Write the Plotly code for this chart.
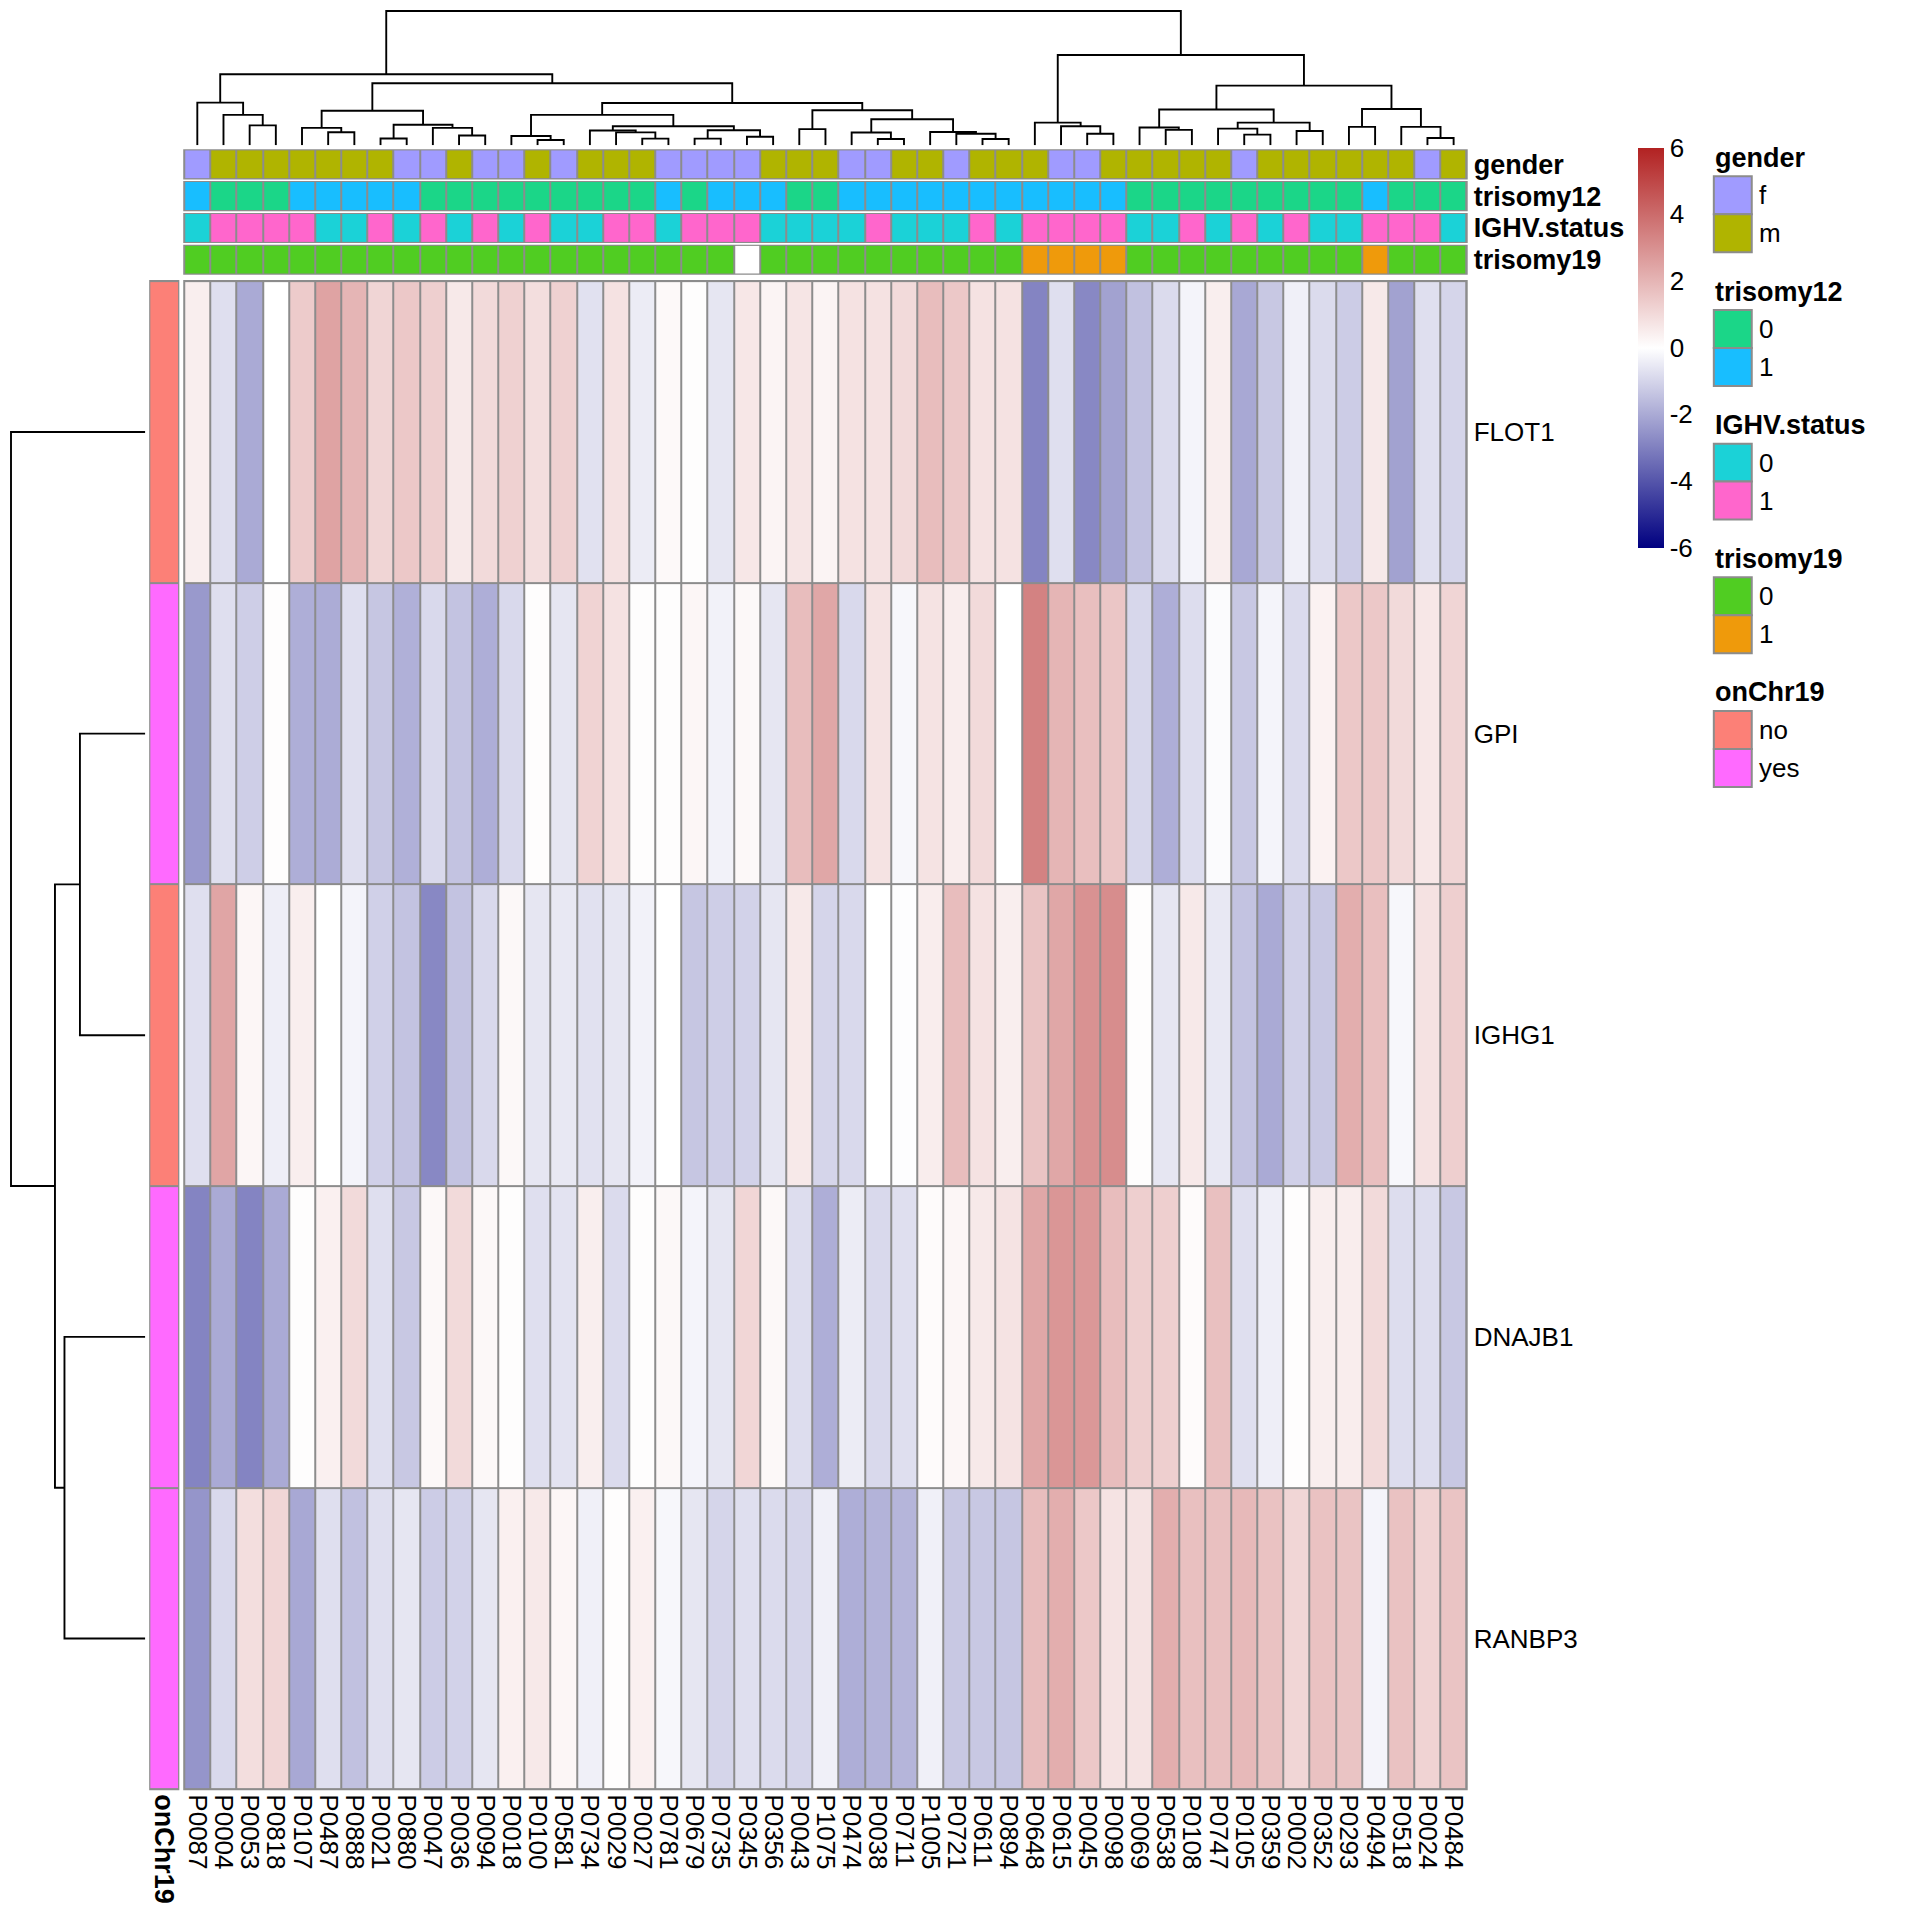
import plotly.graph_objects as go

W = H = 1912          # figure size; page body margin of 8px completes the 1920 window
OFF = 8
FONT = "Liberation Sans, Arial, Helvetica, sans-serif"

# ---------------- data ----------------
samples = ["P0087", "P0004", "P0053", "P0818", "P0107", "P0487", "P0888", "P0021", "P0880", "P0047",
           "P0036", "P0094", "P0018", "P0100", "P0581", "P0734", "P0029", "P0027", "P0781", "P0679",
           "P0735", "P0345", "P0356", "P0043", "P1075", "P0474", "P0038", "P0711", "P1005", "P0721",
           "P0611", "P0894", "P0648", "P0615", "P0045", "P0098", "P0069", "P0538", "P0108", "P0747",
           "P0105", "P0359", "P0002", "P0352", "P0293", "P0494", "P0518", "P0024", "P0484"]
genes = ["FLOT1", "GPI", "IGHG1", "DNAJB1", "RANBP3"]

FLOT1 = [0.45, -0.75, -2.0, 0.0, 1.4, 2.5, 2.0, 1.15, 1.5, 1.3, 0.6, 1.0, 1.25, 0.9, 1.25, -0.7, 0.8,
         -0.45, 0.15, 0.05, -0.6, 0.65, 0.3, 0.7, 0.3, 0.8, 0.8, 1.0, 1.8, 1.5, 0.8, 0.8, -2.9, -0.75,
         -2.8, -2.2, -1.45, -0.85, -0.25, 0.45, -2.05, -1.3, -0.35, -0.85, -1.2, 0.6, -2.2, -0.75, -1.0]
GPI = [-2.4, -0.75, -1.15, 0.05, -1.9, -1.95, -0.75, -1.35, -1.85, -0.9, -1.4, -1.9, -0.9, 0.05, -0.6,
       1.2, 0.8, 0.05, 0.05, 0.25, -0.3, 0.2, -0.6, 1.8, 2.4, -0.9, 0.75, -0.2, 0.75, 0.5, 1.0, 0.0,
       3.4, 2.0, 1.75, 1.55, -0.95, -1.9, -0.8, -0.1, -1.3, -0.25, -0.85, 0.35, 1.5, 1.5, 1.0, 0.65, 1.15]
IGHG1 = [-0.75, 2.45, 0.25, -0.4, 0.45, 0.0, -0.25, -1.1, -1.4, -2.8, -1.4, -0.9, 0.2, -0.6, -0.55,
         -0.7, -0.6, -0.3, 0.0, -1.35, -1.15, -1.05, -0.6, 0.6, -1.0, -0.9, 0.0, -0.05, 0.5, 1.8, 0.8,
         0.45, 1.6, 2.4, 2.95, 3.1, 0.05, -0.6, 0.6, -0.55, -1.4, -2.0, -1.1, -1.3, 2.2, 1.75, -0.2, 0.8, 1.3]
DNAJB1 = [-2.9, -2.0, -2.9, -2.0, 0.05, 0.4, 1.0, -0.75, -1.3, 0.2, 1.0, 0.2, 0.05, -0.75, -0.65, 0.45,
          -0.85, 0.05, 0.2, -0.25, -0.6, 1.1, 0.2, -0.8, -1.9, -0.45, -0.9, -0.75, 0.1, 0.25, 0.6, 0.75,
          2.4, 2.85, 2.8, 1.8, 1.3, 1.3, 0.1, 1.7, -0.75, -0.4, 0.05, 0.45, 0.5, 1.0, -0.8, -0.8, -1.3]
RANBP3 = [-2.5, -0.9, 0.9, 1.1, -2.05, -0.75, -1.45, -0.75, -0.6, -1.2, -1.05, -0.6, 0.4, 0.6, 0.25,
          -0.35, 0.05, 0.4, -0.2, -0.6, -1.0, -0.75, -0.85, -1.0, -0.35, -1.9, -1.8, -1.75, -0.35, -1.3,
          -1.3, -1.35, 1.8, 2.2, 1.5, 0.75, 0.75, 2.2, 1.7, 1.7, 1.9, 1.65, 1.1, 1.65, 1.6, -0.25, 1.65, 1.2, 1.6]

gender = ["f", "m", "m", "m", "m", "m", "m", "m", "f", "f", "m", "f", "f", "m", "f", "m", "m", "m", "f", "f",
          "f", "f", "m", "m", "m", "f", "f", "m", "m", "f", "m", "m", "m", "f", "f", "m", "m", "m", "m", "m",
          "f", "m", "m", "m", "m", "m", "m", "f", "m"]
trisomy12 = [1, 0, 0, 0, 1, 1, 1, 1, 1, 0, 0, 0, 0, 0, 0, 0, 0, 0, 1, 0, 1, 1, 1, 0, 0, 1, 1, 1, 1, 1,
             1, 1, 1, 1, 1, 1, 0, 0, 0, 0, 0, 0, 0, 0, 0, 1, 0, 0, 0]
IGHV_status = [0, 1, 1, 1, 1, 0, 0, 1, 0, 1, 0, 1, 0, 1, 0, 0, 1, 1, 0, 1, 1, 1, 0, 0, 0, 0, 1, 0, 0, 0,
               1, 0, 1, 1, 1, 1, 0, 0, 1, 0, 1, 0, 1, 0, 0, 1, 1, 1, 0]
trisomy19 = [0, 0, 0, 0, 0, 0, 0, 0, 0, 0, 0, 0, 0, 0, 0, 0, 0, 0, 0, 0, 0, None, 0, 0, 0, 0, 0, 0, 0, 0,
             0, 0, 1, 1, 1, 1, 0, 0, 0, 0, 0, 0, 0, 0, 0, 1, 0, 0, 0]
onChr19 = ["no", "yes", "no", "yes", "yes"]

# hierarchical clustering merges: (left, right, height); ids >= n refer to earlier merges
col_linkage = [
    (2, 3, 1.67), (1, 49, 2.55), (0, 50, 3.58), (5, 6, 1.10), (4, 52, 1.46), (7, 8, 0.58),
    (10, 11, 0.83), (9, 55, 1.46), (54, 56, 1.73), (53, 57, 2.90), (13, 14, 0.45), (12, 59, 0.78),
    (17, 18, 0.56), (16, 61, 1.09), (15, 62, 1.25), (19, 20, 0.56), (21, 22, 0.72), (64, 65, 1.27),
    (63, 66, 1.60), (60, 67, 2.55), (23, 24, 1.36), (26, 27, 0.53), (25, 70, 1.08), (30, 31, 0.53),
    (29, 72, 0.97), (28, 73, 1.12), (71, 74, 2.19), (69, 75, 2.94), (68, 76, 3.55), (58, 77, 5.20),
    (51, 78, 5.95), (34, 35, 0.97), (33, 80, 1.60), (32, 81, 1.90), (37, 38, 1.30), (36, 83, 1.50),
    (40, 41, 0.90), (39, 85, 1.40), (42, 43, 1.20), (86, 87, 1.90), (84, 88, 3.00), (44, 45, 1.55),
    (47, 48, 0.62), (46, 91, 1.55), (90, 92, 3.05), (89, 93, 5.00), (82, 94, 7.56), (79, 95, 11.25)]
row_linkage = [(1, 2, 5.5), (3, 4, 6.8), (5, 6, 7.6), (0, 7, 11.3)]

# annotation colours
ann_levels = [("gender", "f"), ("gender", "m"), ("trisomy12", 0), ("trisomy12", 1),
              ("IGHV.status", 0), ("IGHV.status", 1), ("trisomy19", 0), ("trisomy19", 1)]
ann_colors = ["#A09BFF", "#B0B400", "#1BD688", "#18BEFF", "#1BD2D7", "#FF66CC", "#50CD22", "#EF9A0B"]
na_color = "#FFFFFF"
chr_levels = ["no", "yes"]
chr_colors = ["#FC8077", "#FF6AFF"]
border = "#8C8C8C"


# ---------------- helpers ----------------
def fx(p):
    return (p - OFF) / W


def fy(p):
    return 1 - (p - OFF) / H


def dendro(linkage, n):
    pos = {i: float(i) for i in range(n)}
    hgt = {i: 0.0 for i in range(n)}
    a_s, h_s = [], []
    for k, (a, b, h) in enumerate(linkage):
        pa, pb = pos[a], pos[b]
        a_s += [pa, pa, pb, pb, None]
        h_s += [hgt[a], h, h, hgt[b], None]
        pos[n + k] = (pa + pb) / 2
        hgt[n + k] = h
    return a_s, h_s


def discrete_scale(colors):
    n = len(colors)
    cs = []
    for i, c in enumerate(colors):
        cs.append([i / n, c])
        cs.append([(i + 1) / n, c])
    return cs


# layout in window pixels
HX0, HX1 = 183.5, 1468.0
HY0, HY1 = 280.4, 1790.2
ANN_Y = [(149.4, 177.6), (181.2, 209.4), (213.1, 241.2), (244.9, 273.1)]
CHR_X = (149.4, 177.6)
TOP_D = (8.0, 144.5)      # pixel y span of top dendrogram (figure top, leaves)
LEFT_D = (8.0, 144.5)     # pixel x span of left dendrogram (figure left, leaves)
TOP_ROOT_Y = 10.0
LEFT_ROOT_X = 10.0

fig = go.Figure()

# main heatmap
z = [FLOT1, GPI, IGHG1, DNAJB1, RANBP3]
fig.add_trace(go.Heatmap(
    z=z, x=list(range(len(samples))), y=list(range(len(genes))),
    colorscale=[[0, "#000080"], [0.5, "#FFFFFF"], [1, "#B22222"]], zmin=-6, zmax=6,
    xgap=2, ygap=2, hoverinfo="skip",
    colorbar=dict(x=fx(1639.6), xanchor="left", xref="paper", y=fy(347), yanchor="middle",
                  len=400, lenmode="pixels", thickness=26, thicknessmode="pixels",
                  outlinewidth=0, xpad=0, ypad=0, ticks="",
                  tickvals=[-6, -4, -2, 0, 2, 4, 6], ticktext=["-6", "-4", "-2", "0", "2", "4", "6"],
                  tickfont=dict(family=FONT, size=26, color="black")),
    xaxis="x", yaxis="y"))

# column annotation rows
ann_rows = [("gender", gender), ("trisomy12", trisomy12), ("IGHV.status", IGHV_status), ("trisomy19", trisomy19)]
all_colors = ann_colors + [na_color]
for r, (name, vals) in enumerate(ann_rows):
    codes = [ann_levels.index((name, v)) if v is not None else len(ann_levels) for v in vals]
    fig.add_trace(go.Heatmap(
        z=[codes], x=list(range(len(samples))), y=[0],
        colorscale=discrete_scale(all_colors), zmin=-0.5, zmax=len(all_colors) - 0.5,
        showscale=False, xgap=2, ygap=0, hoverinfo="skip",
        xaxis="x", yaxis="y%d" % (3 + r)))

# row annotation
fig.add_trace(go.Heatmap(
    z=[[chr_levels.index(v)] for v in onChr19], x=[0], y=list(range(len(genes))),
    colorscale=discrete_scale(chr_colors), zmin=-0.5, zmax=1.5, showscale=False,
    xgap=0, ygap=2, hoverinfo="skip", xaxis="x3", yaxis="y"))

# dendrograms
cx, ch = dendro(col_linkage, len(samples))
fig.add_trace(go.Scatter(x=cx, y=ch, mode="lines", line=dict(color="black", width=1.9),
                         hoverinfo="skip", showlegend=False, xaxis="x", yaxis="y7"))
ry, rh = dendro(row_linkage, len(genes))
fig.add_trace(go.Scatter(x=rh, y=ry, mode="lines", line=dict(color="black", width=1.9),
                         hoverinfo="skip", showlegend=False, xaxis="x2", yaxis="y"))

col_root = col_linkage[-1][2]
row_root = row_linkage[-1][2]
top_range = col_root * (TOP_D[1] - TOP_D[0]) / (TOP_D[1] - TOP_ROOT_Y)
left_range = row_root * (LEFT_D[1] - LEFT_D[0]) / (LEFT_D[1] - LEFT_ROOT_X)
top_dom = [fy(TOP_D[1]), min(1.0, fy(TOP_D[0]))]
left_dom = [max(0.0, fx(LEFT_D[0])), fx(LEFT_D[1])]

hidden = dict(showgrid=False, zeroline=False, showticklabels=False, ticks="", showline=False)
lay = dict(
    width=W, height=H, margin=dict(l=0, r=0, t=0, b=0),
    paper_bgcolor="white", plot_bgcolor="rgba(0,0,0,0)", showlegend=False,
    font=dict(family=FONT, color="black"),
    xaxis=dict(domain=[fx(HX0), fx(HX1)], range=[-0.5, len(samples) - 0.5], anchor="y",
               tickvals=list(range(len(samples))), ticktext=samples, tickangle=90,
               tickfont=dict(size=26, family=FONT), ticks="", showgrid=False, zeroline=False,
               ticklabelstandoff=4),
    yaxis=dict(domain=[fy(HY1), fy(HY0)], range=[len(genes) - 0.5, -0.5], anchor="x", side="right",
               tickvals=list(range(len(genes))), ticktext=genes, tickfont=dict(size=26, family=FONT),
               ticks="", showgrid=False, zeroline=False, ticklabelstandoff=6),
    xaxis2=dict(domain=left_dom, range=[left_range, 0], anchor="free", position=0, **hidden),
    xaxis3=dict(domain=[fx(CHR_X[0]), fx(CHR_X[1])], range=[-0.5, 0.5], anchor="y",
                tickvals=[0], ticktext=["<b>onChr19</b>"], tickangle=90,
                tickfont=dict(size=27, family=FONT), ticks="", showgrid=False, zeroline=False,
                ticklabelstandoff=4),
    yaxis7=dict(domain=top_dom, range=[0, top_range], anchor="free", position=0, **hidden),
)
for r, (name, _) in enumerate(ann_rows):
    y0, y1 = ANN_Y[r]
    lay["yaxis%d" % (3 + r)] = dict(domain=[fy(y1), fy(y0)], range=[-0.5, 0.5], anchor="x", side="right",
                                    tickvals=[0], ticktext=["<b>%s</b>" % name],
                                    tickfont=dict(size=27, family=FONT), ticks="",
                                    showgrid=False, zeroline=False, ticklabelstandoff=6)
fig.update_layout(**lay)

# grey cell borders behind the tiles
shapes = []


def back(x0, y0, x1, y1):
    shapes.append(dict(type="rect", xref="paper", yref="paper", x0=fx(x0 - 1), x1=fx(x1 + 1),
                       y0=fy(y1 + 1), y1=fy(y0 - 1), fillcolor=border, line=dict(width=0), layer="below"))


back(HX0, HY0, HX1, HY1)
for (y0, y1) in ANN_Y:
    back(HX0, y0, HX1, y1)
back(CHR_X[0], HY0, CHR_X[1], HY1)

# legends
annotations = []
LX0, LX1 = 1715.5, 1753.5
legend_groups = [("gender", ["f", "m"], ann_colors[0:2]),
                 ("trisomy12", ["0", "1"], ann_colors[2:4]),
                 ("IGHV.status", ["0", "1"], ann_colors[4:6]),
                 ("trisomy19", ["0", "1"], ann_colors[6:8]),
                 ("onChr19", chr_levels, chr_colors)]
for g, (title, labels, cols) in enumerate(legend_groups):
    T = 157 + 133.8 * g
    annotations.append(dict(text="<b>%s</b>" % title, x=fx(LX0 - 1), y=fy(T), xref="paper", yref="paper",
                            xanchor="left", yanchor="middle", showarrow=False,
                            font=dict(size=27, family=FONT, color="black")))
    for i, (lab, col) in enumerate(zip(labels, cols)):
        b0 = T + 18.5 + 38 * i
        shapes.append(dict(type="rect", xref="paper", yref="paper", x0=fx(LX0), x1=fx(LX1),
                           y0=fy(b0 + 38), y1=fy(b0), fillcolor=col, line=dict(color=border, width=2)))
        annotations.append(dict(text=lab, x=fx(1759), y=fy(b0 + 19), xref="paper", yref="paper",
                                xanchor="left", yanchor="middle", showarrow=False,
                                font=dict(size=26, family=FONT, color="black")))

fig.update_layout(shapes=shapes, annotations=annotations)
fig.write_html("out.html")
